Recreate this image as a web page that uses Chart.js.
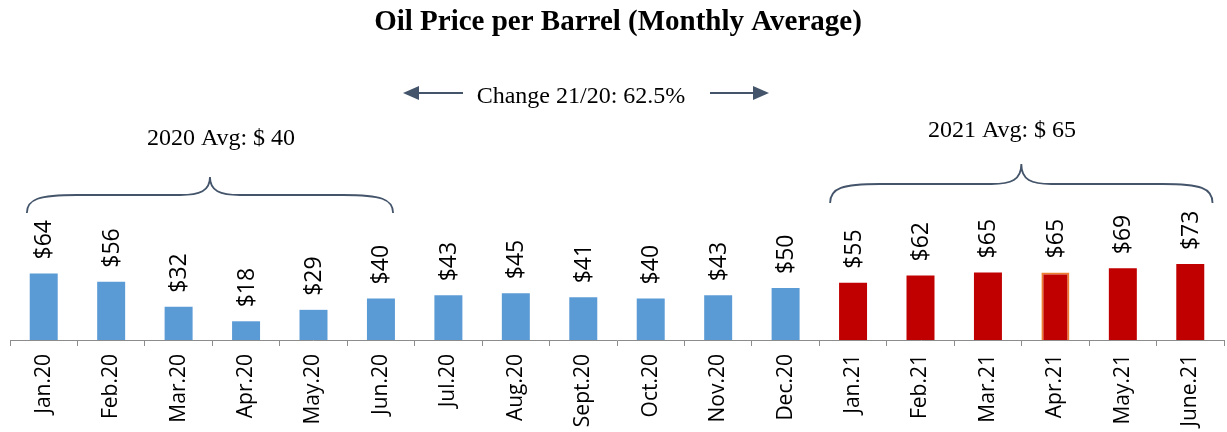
<!DOCTYPE html>
<html>
<head>
<meta charset="utf-8">
<script src="https://cdn.jsdelivr.net/npm/chart.js@4.4.0/dist/chart.umd.min.js"></script>
<style>
  html, body { margin: 0; padding: 0; background: #fff; }
  #wrap { width: 1227px; height: 432px; }
</style>
</head>
<body>
<div id="wrap"><canvas id="myChart" width="1227" height="432"></canvas></div>
<script>
// monthly average oil price, 2020 then 2021
const months = ['Jan.20', 'Feb.20', 'Mar.20', 'Apr.20', 'May.20', 'Jun.20', 'Jul.20', 'Aug.20',
  'Sept.20', 'Oct.20', 'Nov.20', 'Dec.20', 'Jan.21', 'Feb.21', 'Mar.21', 'Apr.21', 'May.21', 'June.21'];
const prices = [64, 56, 32, 18, 29, 40, 43, 45, 41, 40, 43, 50, 55, 62, 65, 65, 69, 73];
const years = ['2020', '2020', '2020', '2020', '2020', '2020', '2020', '2020', '2020', '2020', '2020', '2020',
  '2021', '2021', '2021', '2021', '2021', '2021'];
const avgText = ['2020 Avg: $ 40', '2021 Avg: $ 65'];
const changeText = 'Change 21/20: 62.5%';
const titleText = 'Oil Price per Barrel (Monthly Average)';

const blue = '#5b9bd5';
const red = '#c00000';
const slate = '#44546a';
const sans = '"Open Sans", "Liberation Sans", Arial, sans-serif';
const serif = '"Liberation Serif", "Times New Roman", serif';

var barColors = years.map(y => y == '2020' ? blue : red);
var borderColors = months.map(m => m == 'Apr.21' ? '#ed7d31' : 'rgba(0,0,0,0)');
var borderWidths = months.map(m => m == 'Apr.21' ? 2 : 0);

function brace(c, x1, x2, yEnd, yMid, yTip) {
    const xc = (x1 + x2) / 2;
    c.beginPath();
    c.moveTo(x1, yEnd);
    c.bezierCurveTo(x1, yMid + 4, x1 + 12, yMid, x1 + 50, yMid);
    c.lineTo(xc - 30, yMid);
    c.bezierCurveTo(xc - 10, yMid, xc, yMid - 4, xc, yTip);
    c.bezierCurveTo(xc, yMid - 4, xc + 10, yMid, xc + 30, yMid);
    c.lineTo(x2 - 50, yMid);
    c.bezierCurveTo(x2 - 12, yMid, x2, yMid + 4, x2, yEnd);
    c.stroke();
}

function arrow(c, from, to, y) {
    const dir = to > from ? 1 : -1;
    c.beginPath();
    c.moveTo(from, y);
    c.lineTo(to - dir * 12, y);
    c.stroke();
    c.beginPath();
    c.moveTo(to, y);
    c.lineTo(to - dir * 16, y - 7);
    c.lineTo(to - dir * 16, y + 7);
    c.closePath();
    c.fill();
}

const extras = {
    id: 'extras',
    afterDatasetsDraw(chart) {
        const c = chart.ctx;
        const x = chart.scales.x;
        const w = x.width / months.length;
        const px = v => x.left + (v + 0.5) * w;

        // value labels above bars
        const meta = chart.getDatasetMeta(0);
        c.save();
        c.fillStyle = '#000';
        c.font = '23px ' + sans;
        c.textAlign = 'left';
        c.textBaseline = 'middle';
        meta.data.forEach((bar, i) => {
            c.save();
            c.translate(bar.x + 1, bar.y - 14);
            c.rotate(-Math.PI / 2);
            c.fillText('$' + prices[i], 0, 0);
            c.restore();
        });
        c.restore();

        // title
        c.save();
        c.fillStyle = '#000';
        c.textAlign = 'center';
        c.textBaseline = 'alphabetic';
        c.font = 'bold 29px ' + serif;
        c.fillText(titleText, 618, 30);

        c.font = '24px ' + serif;
        c.fillText(avgText[0], 221, 145);
        c.fillText(avgText[1], 1002, 137);
        c.fillText(changeText, 581, 103);

        // braces and arrows
        c.strokeStyle = slate;
        c.fillStyle = slate;
        c.lineWidth = 1.8;
        brace(c, px(-0.25), px(5.18), 213, 195, 177);
        brace(c, px(11.66), px(17.33), 203, 184, 164);
        c.lineWidth = 2.2;
        arrow(c, 463, 403, 93);
        arrow(c, 710, 769, 93);
        c.restore();
    }
};

var ctx = document.getElementById('myChart');
var myChart = new Chart(ctx, {
    type: 'bar',
    data: {
        labels: months,
        datasets: [{
            data: prices,
            backgroundColor: barColors,
            borderColor: borderColors,
            borderWidth: borderWidths,
            barPercentage: 0.415,
            categoryPercentage: 1
        }]
    },
    options: {
        responsive: false,
        animation: false,
        layout: { padding: { left: 10, right: 3, top: 28, bottom: 0 } },
        plugins: {
            legend: { display: false },
            title: { display: false },
            tooltip: { enabled: false }
        },
        scales: {
            x: {
                afterFit: s => { s.height = 92; },
                grid: {
                    display: true,
                    drawOnChartArea: false,
                    drawTicks: true,
                    tickLength: 6,
                    color: '#8c8c8c',
                    offset: true
                },
                border: { display: true, color: '#8c8c8c', width: 1 },
                ticks: {
                    autoSkip: false,
                    minRotation: 90,
                    maxRotation: 90,
                    padding: 8,
                    color: '#000',
                    font: { family: sans, size: 21 }
                }
            },
            y: {
                display: false,
                min: 0,
                max: 300
            }
        }
    },
    plugins: [extras]
});
</script>
</body>
</html>
